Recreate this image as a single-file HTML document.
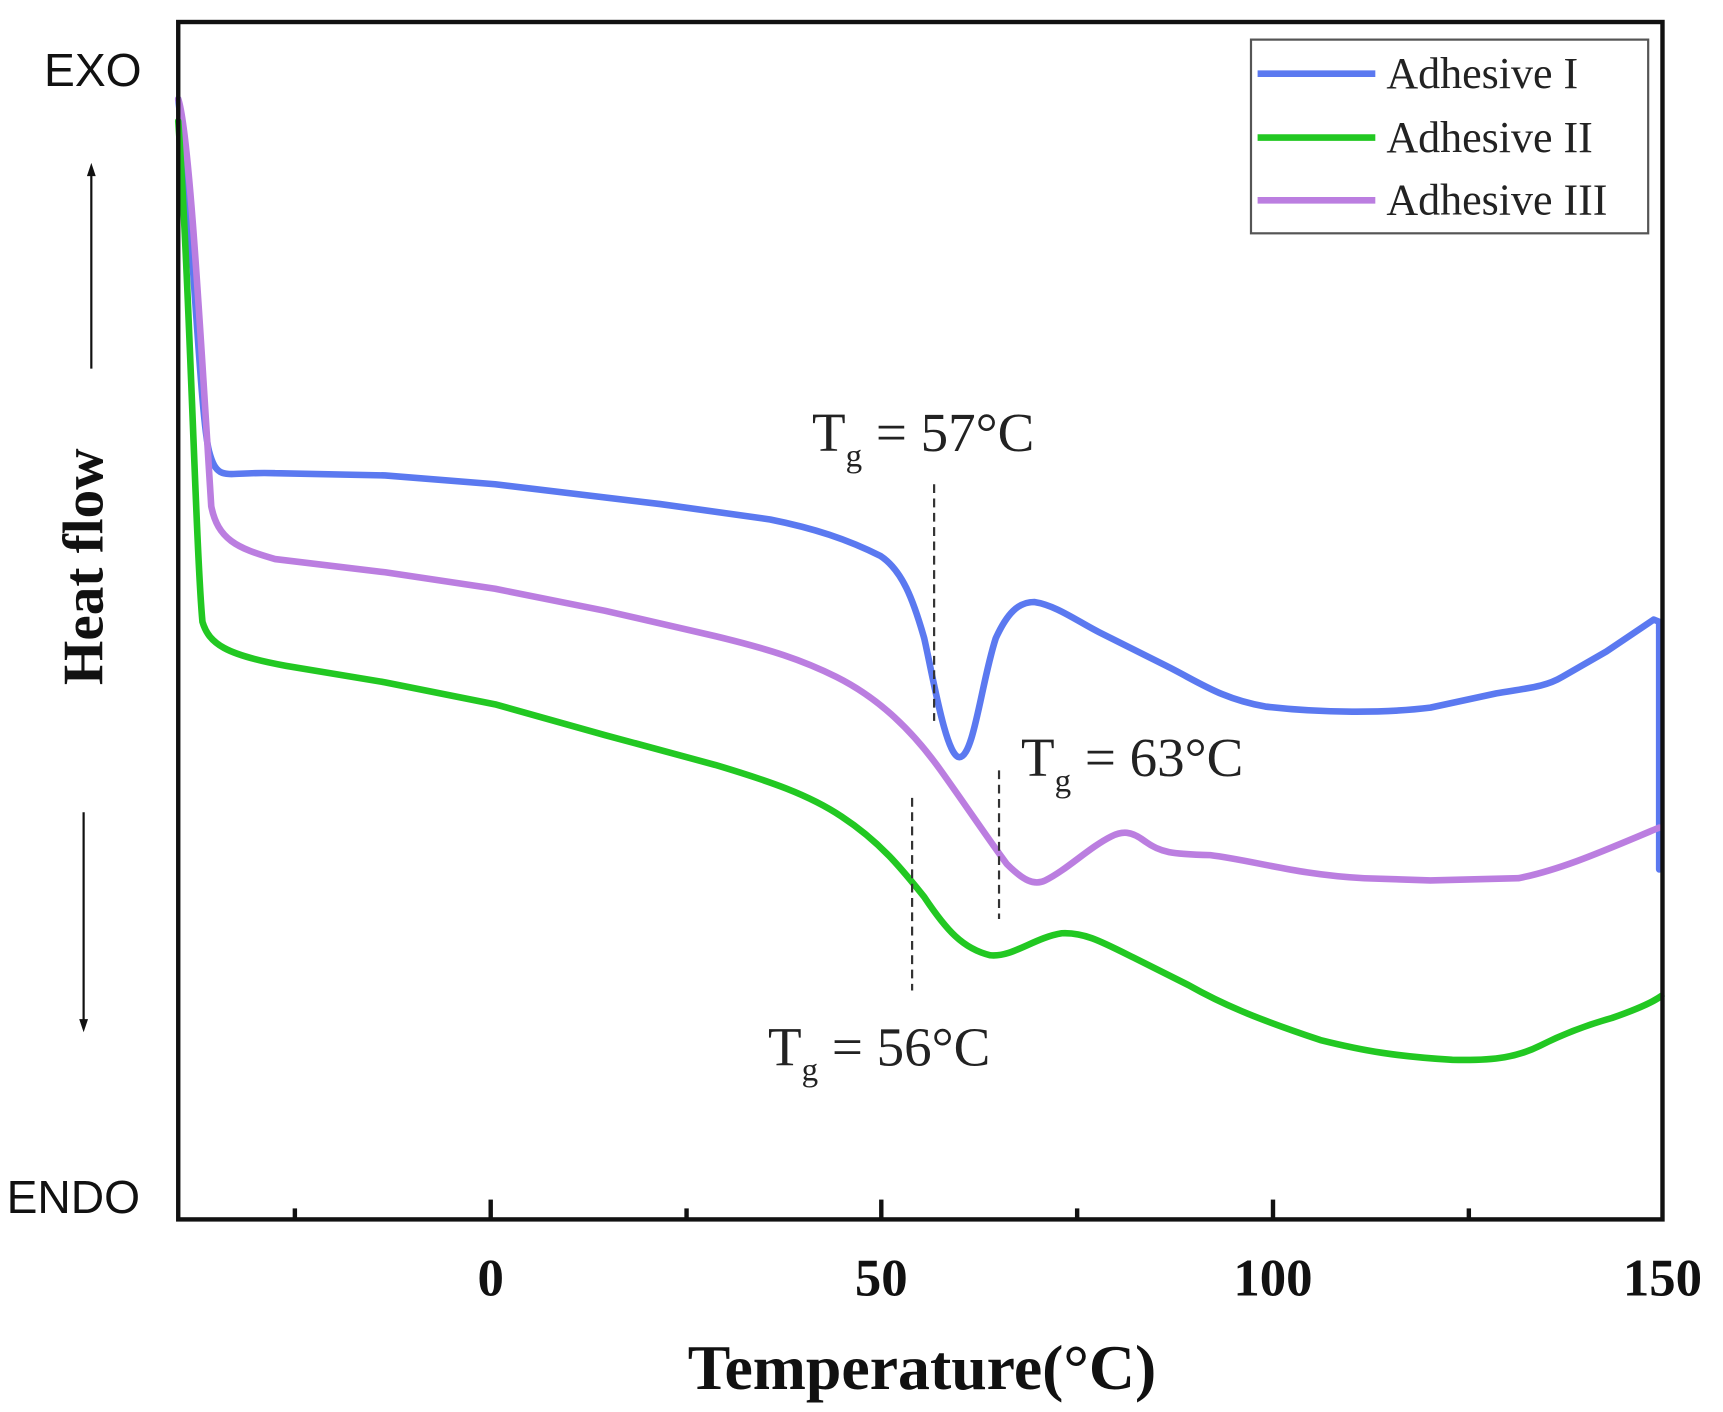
<!DOCTYPE html>
<html><head><meta charset="utf-8"><style>html,body{margin:0;padding:0;background:#fff}svg{display:block}</style></head>
<body>
<svg width="1723" height="1412" viewBox="0 0 1566 1283" preserveAspectRatio="none" xmlns="http://www.w3.org/2000/svg">
<g fill="none" stroke-linejoin="round" stroke-linecap="round" stroke-width="6">
<path stroke="#5b79f0" d="M162,90 C175,200 182,380 190,410 S205,428 250,430 L350,432 L450,440 L600,458 L700,472 C740,480 770,490 800,505 C820,518 830,545 840,580 C848,615 860,688 872,688 C885,688 892,620 905,580 C915,558 925,547 940,547 C960,550 980,565 1000,575 L1060,605 C1090,620 1110,635 1150,642 C1200,648 1260,648 1300,643 L1360,630 C1390,625 1405,624 1420,615 L1460,592 L1503,563 L1508,565 L1508,790"/>
<path stroke="#bb7ee0" d="M162,90 C172,120 182,300 192,460 C198,490 215,498 250,508 L350,520 L450,535 L550,555 L650,578 C700,590 730,600 760,615 C800,635 830,665 855,700 C880,735 900,765 915,785 C930,800 940,805 950,800 C970,790 990,770 1010,760 C1020,755 1028,755 1040,764 C1055,775 1065,776 1100,777 C1140,782 1180,795 1240,798 L1300,800 L1380,798 C1420,790 1460,772 1508,752"/>
<path stroke="#22c822" d="M162,110 C172,250 178,500 184,565 C190,585 205,595 260,605 L350,620 L450,640 L550,668 L650,695 C700,710 735,722 765,742 C800,765 820,790 840,815 C860,845 875,862 900,868 C920,870 940,852 965,848 C985,847 1000,855 1030,870 L1080,895 C1110,912 1140,925 1200,945 C1240,955 1270,960 1320,963 C1360,964 1380,960 1400,950 C1420,940 1440,932 1465,925 C1485,918 1500,912 1510,905"/>
</g>
<g stroke="#333" stroke-width="2" stroke-dasharray="8,5">
<line x1="849" y1="440" x2="849" y2="655"/>
<line x1="908" y1="700" x2="908" y2="835"/>
<line x1="829" y1="725" x2="829" y2="900"/>
</g>
<rect x="162" y="20" width="1349" height="1088" fill="none" stroke="#111" stroke-width="4"/>
<g stroke="#111" stroke-width="4">
<line x1="446" y1="1108" x2="446" y2="1090"/><line x1="801" y1="1108" x2="801" y2="1090"/><line x1="1157" y1="1108" x2="1157" y2="1090"/>
<line x1="268" y1="1108" x2="268" y2="1098"/><line x1="624" y1="1108" x2="624" y2="1098"/><line x1="979" y1="1108" x2="979" y2="1098"/><line x1="1335" y1="1108" x2="1335" y2="1098"/>
</g>
<g font-family="Liberation Serif, serif" font-weight="bold" font-size="48" text-anchor="middle" fill="#111">
<text x="446" y="1177">0</text><text x="801" y="1177">50</text><text x="1157" y="1177">100</text><text x="1511" y="1177">150</text>
<text x="838" y="1262" font-size="58">Temperature(°C)</text>
<text transform="translate(93,515) rotate(-90)" font-size="52">Heat flow</text>
</g>
<g font-family="Liberation Sans, sans-serif" font-size="42" fill="#111">
<text x="40" y="78">EXO</text><text x="6" y="1102">ENDO</text>
</g>
<g stroke="#111" stroke-width="2"><line x1="83" y1="335" x2="83" y2="158"/><line x1="76" y1="738" x2="76" y2="928"/></g>
<path d="M79,160 L83,148 L87,160Z M72,926 L76,938 L80,926Z" fill="#111"/>
<g font-family="Liberation Serif, serif" font-size="50" fill="#222">
<text x="738" y="410">T<tspan font-size="30" dy="14">g</tspan><tspan dy="-14"> = 57°C</tspan></text>
<text x="928" y="705">T<tspan font-size="30" dy="14">g</tspan><tspan dy="-14"> = 63°C</tspan></text>
<text x="698" y="968">T<tspan font-size="30" dy="14">g</tspan><tspan dy="-14"> = 56°C</tspan></text>
</g>
<rect x="1137" y="36" width="361" height="176" fill="#fff" stroke="#555" stroke-width="2"/>
<g stroke-width="6"><line x1="1143" y1="67" x2="1250" y2="67" stroke="#5b79f0"/><line x1="1143" y1="125" x2="1250" y2="125" stroke="#22c822"/><line x1="1143" y1="182" x2="1250" y2="182" stroke="#bb7ee0"/></g>
<g font-family="Liberation Serif, serif" font-size="40" fill="#222">
<text x="1260" y="80">Adhesive I</text><text x="1260" y="138">Adhesive II</text><text x="1260" y="195">Adhesive III</text>
</g>
</svg>
</body></html>
